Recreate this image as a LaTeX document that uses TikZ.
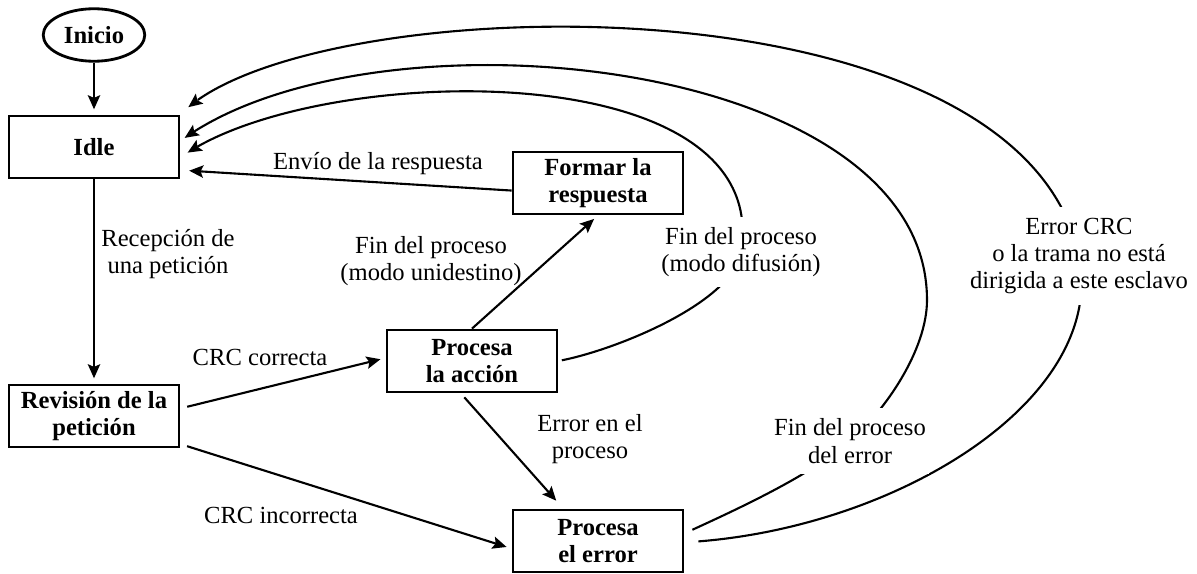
\documentclass[tikz,border=0pt]{standalone}
\usepackage{fontspec}
\setmainfont{Liberation Serif}
\usepackage{tikz}
\usetikzlibrary{shapes.geometric,arrows.meta,bending}
\newcommand{\letra}{\fontsize{14pt}{15.5pt}\selectfont}
\tikzset{>={Stealth[length=8pt,width=7pt,inset=1.5pt]}}
\tikzset{
        estado/.style={draw, line width=1.6pt, minimum width=3.4cm, minimum height=1.24cm, align=center, font=\letra\bfseries},
        etiqueta/.style={align=center, font=\letra},
        corte/.style={align=center, font=\letra, fill=white, inner xsep=2pt, inner ysep=6pt},
        flecha/.style={->, line width=1.2pt, shorten >=3pt}
}

\begin{document}
\begin{tikzpicture}[x=0.02cm, y=-0.02cm]
        \useasboundingbox (0,0) rectangle (1197,574);

        \node[ellipse, draw, line width=1.6pt, minimum width=1.8cm, minimum height=1.05cm, font=\letra\bfseries] at (94,35) (inicio) {Inicio};
        \node[estado] at (94,147) (idle) {Idle};
        \node[estado] at (94,416) (revision) {Revisión de la\\petición};
        \node[estado] at (598,183) (formar) {Formar la\\respuesta};
        \node[estado] at (472,361) (accion) {Procesa\\la acción};
        \node[estado] at (598,541) (error) {Procesa\\el error};

        \draw[flecha] (inicio.south) -- (idle.north);
        \draw[flecha] (idle.south) -- (revision.north);
        \draw[flecha, shorten <=4pt] (revision.5) -- (accion.178);
        \draw[flecha, shorten <=4pt] (revision.-18) -- (error.185);
        \draw[flecha] (accion.north) -- (formar.south);
        \draw[flecha, shorten >=5pt] (formar.185) -- (idle.345);
        \draw[flecha, shorten <=3pt, shorten >=6pt] (accion.251) -- (error.137);

        \coordinate (pdif) at (741,252);
        \coordinate (pfin) at (850,441);
        \coordinate (perr) at (1079,256);
        \coordinate (der) at (927,300);

        \draw[flecha, shorten <=2pt, shorten >=5pt] (accion.east) .. controls +(60,-12) and +(-8,50) .. (pdif)
                .. controls +(33,-202) and +(130,-95) .. (idle.-7);
        \draw[flecha, shorten <=5pt] (error.5) .. controls +(50,-23) and +(-40,35) .. (pfin)
                .. controls +(35,-30) and +(0,50) .. (der)
                .. controls +(0,-245) and +(190,-140) .. (idle.4);
        \draw[flecha, shorten <=8pt, shorten >=6pt] (error.-1) .. controls +(217,-17) and +(28,142) .. (perr)
                .. controls +(-60,-288) and +(121,-126) .. (idle.north east);

        \node[etiqueta] at (168,254) (recepcion) {Recepción de\\una petición};
        \node[etiqueta] at (260,357) (crcbien) {CRC correcta};
        \node[etiqueta] at (281,515) (crcmal) {CRC incorrecta};
        \node[etiqueta] at (378,164) (envio) {Envío de la respuesta};
        \node[etiqueta] at (431,261) (unidestino) {Fin del proceso\\(modo unidestino)};
        \node[etiqueta] at (590,439) (errproc) {Error en el\\proceso};
        \node[corte] at (pdif) (difusion) {Fin del proceso\\(modo difusión)};
        \node[corte] at (pfin) (finerror) {Fin del proceso\\del error};
        \node[corte] at (perr) (errcrc) {Error CRC\\o la trama no está\\dirigida a este esclavo};
\end{tikzpicture}
\end{document}
